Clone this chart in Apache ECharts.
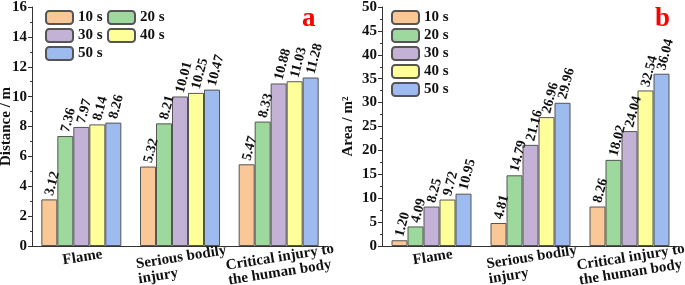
<!DOCTYPE html>
<html><head><meta charset="utf-8">
<script src="https://cdn.jsdelivr.net/npm/echarts@6/dist/echarts.min.js"></script>
<style>html,body{margin:0;padding:0;background:#fff}#c{width:685px;height:285px}</style>
</head><body><div id="c"></div>
<script>
const categories = ['Flame', 'Serious bodily\ninjury', 'Critical injury to\nthe human body'];
const seriesNames = ['10 s', '20 s', '30 s', '40 s', '50 s'];
const colors = ['#F9C896', '#9DD89D', '#C3B1D6', '#FFFF99', '#9DBBEF'];
// Distance (m)
const dist10 = [3.12, 5.32, 5.47];
const dist20 = [7.36, 8.21, 8.33];
const dist30 = [7.97, 10.01, 10.88];
const dist40 = [8.14, 10.25, 11.03];
const dist50 = [8.26, 10.47, 11.28];
// Area (m^2)
const area10 = [1.20, 4.81, 8.26];
const area20 = [4.09, 14.79, 18.02];
const area30 = [8.25, 21.16, 24.04];
const area40 = [9.72, 26.96, 32.54];
const area50 = [10.95, 29.96, 36.04];
const distTicks = {min: 0, max: 16, interval: 2};
const areaTicks = {min: 0, max: 50, interval: 5};

const FONT = '"Liberation Serif", "Times New Roman", serif';
const distData = [dist10, dist20, dist30, dist40, dist50];
const areaData = [area10, area20, area30, area40, area50];

function makeX(gi) {
  return {
    type: 'category', gridIndex: gi, data: categories,
    axisTick: {show: false},
    axisLine: {lineStyle: {color: '#333', width: 1}},
    axisLabel: {
      interval: 0, rotate: 9, margin: 4, align: 'center', verticalAlign: 'top',
      formatter: v => v.split('\n').map(l => '{a|' + l + '}').join('\n'),
      rich: {a: {align: 'left', fontFamily: FONT, fontWeight: 'bold', fontSize: 15, lineHeight: 15, color: '#111'}}
    }
  };
}
function makeY(gi, t, name, gap) {
  return {
    type: 'value', gridIndex: gi, min: t.min, max: t.max, interval: t.interval,
    name: name, nameLocation: 'middle', nameGap: gap, nameMoveOverlap: false,
    nameTextStyle: {fontFamily: FONT, fontWeight: 'bold', fontSize: 15, color: '#111'},
    axisLine: {show: true, lineStyle: {color: '#333', width: 1}},
    axisTick: {show: true, inside: false, length: 4, lineStyle: {color: '#333'}},
    minorTick: {show: true, splitNumber: 2, length: 2, lineStyle: {color: '#333'}},
    splitLine: {show: false},
    axisLabel: {margin: 5, fontFamily: FONT, fontWeight: 'bold', fontSize: 15, color: '#111'}
  };
}
const series = [];
[distData, areaData].forEach((dataset, gi) => {
  dataset.forEach((arr, i) => {
    series.push({
      type: 'bar', name: seriesNames[i], xAxisIndex: gi, yAxisIndex: gi,
      data: arr, barWidth: 16, barGap: '0%',
      itemStyle: {color: colors[i], borderColor: '#555', borderWidth: 1},
      label: {
        show: true, position: 'top', rotate: 75, align: 'left', verticalAlign: 'middle', distance: 4,
        formatter: p => p.value.toFixed(2),
        fontFamily: FONT, fontWeight: 'bold', fontSize: 14, color: '#111'
      }
    });
  });
});
const legendText = {fontFamily: FONT, fontWeight: 'bold', fontSize: 15, color: '#111'};
function legend(names, left) {
  return {data: names, left: left, top: 10, orient: 'vertical', itemWidth: 27, itemHeight: 13,
    itemGap: 3, textStyle: legendText, selectedMode: false, padding: 0};
}
const chart = echarts.init(document.getElementById('c'), null, {renderer: 'canvas'});
chart.setOption({
  animation: false,
  grid: [
    {left: 32, top: 7, width: 296, height: 239, containLabel: false, outerBoundsMode: 'none'},
    {left: 382, top: 7, width: 297, height: 239, containLabel: false, outerBoundsMode: 'none'}
  ],
  xAxis: [makeX(0), makeX(1)],
  yAxis: [makeY(0, distTicks, 'Distance / m', 18), makeY(1, areaTicks, 'Area / m²', 26)],
  legend: [
    legend([seriesNames[0], seriesNames[2], seriesNames[4]], 45),
    legend([seriesNames[1], seriesNames[3]], 107),
    legend(seriesNames, 391)
  ],
  title: [
    {text: 'a', left: 302, top: 6, padding: 0, textStyle: {color: '#ff0000', fontFamily: FONT, fontWeight: 'bold', fontSize: 27}},
    {text: 'b', left: 655, top: 6, padding: 0, textStyle: {color: '#ff0000', fontFamily: FONT, fontWeight: 'bold', fontSize: 27}}
  ],
  series: series
});
</script></body></html>
